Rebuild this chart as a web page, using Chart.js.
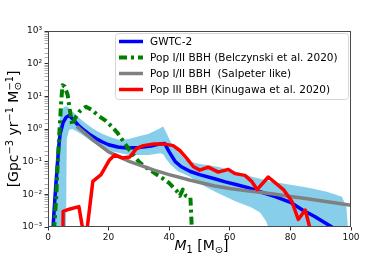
<!DOCTYPE html>
<html>
<head>
<meta charset="utf-8">
<script src="https://cdn.jsdelivr.net/npm/chart.js@4.4.1/dist/chart.umd.min.js"></script>
<style>
  html, body { margin: 0; padding: 0; background: #fff; }
  canvas { display: block; }
</style>
</head>
<body>
<canvas id="c" width="390" height="260"></canvas>
<script>
const FONT = '"DejaVu Sans", sans-serif';

// series names (legend order)
const seriesLabels = [
  'GWTC-2',
  'Pop I/II BBH (Belczynski et al. 2020)',
  'Pop I/II BBH  (Salpeter like)',
  'Pop III BBH (Kinugawa et al. 2020)'
];

// GWTC-2 median
const gwX = [1.6, 2, 2.5, 3, 3.5, 4, 5, 6, 7, 8, 10, 12, 14, 16, 18, 20, 23, 26, 30, 34, 37, 38.5, 40, 42, 44, 47, 50, 55, 58.5, 62, 66, 70, 75, 80, 84, 88, 93.7, 95];
const gwY = [0.0008, 0.003, 0.015, 0.06, 0.25, 0.7, 1.6, 2.3, 2.6, 2.1, 1.3, 0.9, 0.65, 0.5, 0.4, 0.33, 0.28, 0.26, 0.27, 0.3, 0.35, 0.36, 0.2, 0.1, 0.07, 0.05, 0.04, 0.03, 0.024, 0.02, 0.016, 0.012, 0.0085, 0.0057, 0.0033, 0.0021, 0.001, 0.0008];

// GWTC-2 90% band
const bandX  = [1.2, 1.6, 2.2, 3, 4, 5, 5.9, 6.2, 7, 8, 10, 12, 15, 18, 21, 24, 27, 30, 33, 35, 37, 38, 39, 40.5, 43, 45, 47, 50, 52, 56, 62, 67, 70, 72, 73, 77, 81, 86, 92, 97, 98.5, 99.2];
const bandHi = [0.0005, 0.003, 0.03, 0.4, 2.5, 4.5, 5, 4.9, 4.4, 3.5, 2.3, 1.6, 1.0, 0.7, 0.55, 0.45, 0.5, 0.6, 0.7, 0.85, 1.05, 1.2, 0.8, 0.4, 0.2, 0.12, 0.1, 0.085, 0.08, 0.07, 0.05, 0.035, 0.03, 0.027, 0.025, 0.022, 0.019, 0.016, 0.012, 0.0085, 0.004, 0.0005];
const bandLo = [0.0003, 0.0003, 0.0003, 0.0003, 0.0003, 0.0003, 0.0003, 0.5, 0.95, 1.0, 0.8, 0.6, 0.38, 0.27, 0.21, 0.18, 0.16, 0.16, 0.16, 0.17, 0.18, 0.17, 0.12, 0.08, 0.05, 0.042, 0.034, 0.022, 0.017, 0.011, 0.006, 0.004, 0.0028, 0.0015, 0.0008, 0.0003, 0.0003, 0.0003, 0.0003, 0.0003, 0.0003, 0.0003];

// Pop I/II (Belczynski)
const belX = [2, 2.7, 3.2, 3.8, 4.4, 4.8, 5.5, 6.5, 7, 8, 9, 10.5, 12.5, 14.5, 16.5, 19, 21, 23, 25, 27, 30, 32, 34.7, 38, 40, 42.4, 43.5, 44.5, 45.5, 47, 47.7];
const belY = [0.0008, 0.008, 0.09, 0.9, 8, 22, 20, 11, 5, 1.3, 2.2, 3.5, 4.8, 3.8, 2.6, 1.8, 1.2, 0.75, 0.4, 0.22, 0.1, 0.07, 0.048, 0.03, 0.022, 0.013, 0.009, 0.014, 0.009, 0.008, 0.0003];

// Pop I/II (Salpeter like)
const salX = [9.5, 10, 15, 20, 27, 35, 40, 47, 55, 60, 65, 70, 75, 80, 85, 90, 95, 100];
const salY = [1.2, 1.1, 0.45, 0.2, 0.1, 0.055, 0.04, 0.027, 0.018, 0.015, 0.013, 0.0115, 0.01, 0.0086, 0.0074, 0.0064, 0.0054, 0.0046];

// Pop III (Kinugawa)
const redX = [4.9, 5, 7, 10.2, 12.3, 14.8, 17.5, 20.2, 22, 24.5, 27, 29.2, 31.5, 35, 38, 41.3, 43.5, 46, 48, 50.1, 52.9, 56.2, 59.5, 61.7, 65, 67.2, 69, 72.7, 77.7, 80.5, 82.6, 84.9, 87.2];
const redY = [0.0003, 0.003, 0.0035, 0.0042, 0.0003, 0.025, 0.04, 0.11, 0.16, 0.13, 0.14, 0.25, 0.31, 0.35, 0.35, 0.31, 0.22, 0.12, 0.07, 0.055, 0.068, 0.048, 0.058, 0.043, 0.038, 0.025, 0.014, 0.034, 0.014, 0.006, 0.0017, 0.0033, 0.0005];

// axes
const xTicks = [0, 20, 40, 60, 80, 100];
const yPowers = [-3, -2, -1, 0, 1, 2, 3];
const yTickLabels = ['10⁻³', '10⁻²', '10⁻¹', '10⁰', '10¹', '10²', '10³'];

const pts = (xs, ys) => xs.map((x, i) => ({ x: x, y: ys[i] }));

function isPow10(v) {
  const l = Math.log10(v);
  return Math.abs(l - Math.round(l)) < 1e-6;
}

// draw text made of pieces (sub/superscripts); returns width
function rich(ctx, parts, x, y, draw) {
  let cx = x, held = 0;
  parts.forEach(p => {
    ctx.font = (p.it ? 'italic ' : '') + p.s + 'px ' + FONT;
    const w = ctx.measureText(p.t).width;
    if (draw) ctx.fillText(p.t, cx, y + (p.dy || 0));
    if (p.hold) { held = w; return; }
    cx += Math.max(w, held);
    held = 0;
  });
  return cx - x;
}

const xTitle = [
  { t: 'M', s: 14, it: true }, { t: '1', s: 9.8, dy: 3 },
  { t: ' [M', s: 14 }, { t: '⊙', s: 9.8, dy: 3 }, { t: ']', s: 14 }
];
const yTitle = [
  { t: '[Gpc', s: 14 }, { t: '−3', s: 9.8, dy: -5.5 },
  { t: ' yr', s: 14 }, { t: '−1', s: 9.8, dy: -5.5 },
  { t: ' M', s: 14 }, { t: '⊙', s: 9.8, dy: 3, hold: true }, { t: '−1', s: 9.8, dy: -5.5 },
  { t: ']', s: 14 }
];

const decorations = {
  id: 'decorations',
  afterDraw(chart) {
    const ctx = chart.ctx, a = chart.chartArea;
    ctx.save();
    // frame
    ctx.strokeStyle = '#4a4a4a';
    ctx.lineWidth = 1;
    ctx.strokeRect(Math.round(a.left) + 0.5, Math.round(a.top) + 0.5,
      Math.round(a.right - a.left) - 1, Math.round(a.bottom - a.top) - 1);

    // axis titles
    ctx.fillStyle = '#000';
    ctx.textBaseline = 'alphabetic';
    ctx.textAlign = 'left';
    let w = rich(ctx, xTitle, 0, 0, false);
    rich(ctx, xTitle, (a.left + a.right) / 2 - w / 2 + 2, 250, true);

    w = rich(ctx, yTitle, 0, 0, false);
    ctx.translate(13, (a.top + a.bottom) / 2);
    ctx.rotate(-Math.PI / 2);
    rich(ctx, yTitle, -w / 2, 5, true);
    ctx.restore();

    // legend
    ctx.save();
    const bx = 115.5, by = 33.5, bw = 233, bh = 66, r = 3;
    ctx.beginPath();
    ctx.moveTo(bx + r, by);
    ctx.lineTo(bx + bw - r, by);
    ctx.arcTo(bx + bw, by, bx + bw, by + r, r);
    ctx.lineTo(bx + bw, by + bh - r);
    ctx.arcTo(bx + bw, by + bh, bx + bw - r, by + bh, r);
    ctx.lineTo(bx + r, by + bh);
    ctx.arcTo(bx, by + bh, bx, by + bh - r, r);
    ctx.lineTo(bx, by + r);
    ctx.arcTo(bx, by, bx + r, by, r);
    ctx.closePath();
    ctx.fillStyle = 'rgba(255,255,255,0.8)';
    ctx.fill();
    ctx.strokeStyle = '#d6d6d6';
    ctx.lineWidth = 1;
    ctx.stroke();

    ctx.font = '10.5px ' + FONT;
    ctx.textBaseline = 'middle';
    seriesLabels.forEach((label, i) => {
      const ds = chart.data.datasets[i];
      const y = 41.5 + i * 16;
      ctx.beginPath();
      ctx.setLineDash(ds.borderDash || []);
      ctx.strokeStyle = ds.borderColor;
      ctx.lineWidth = ds.borderWidth;
      ctx.moveTo(119, y);
      ctx.lineTo(143, y);
      ctx.stroke();
      ctx.setLineDash([]);
      ctx.fillStyle = '#000';
      ctx.fillText(label, 150, y + 0.5);
    });
    ctx.restore();
  }
};

const lineBase = { pointRadius: 0, fill: false, tension: 0, clip: 0, borderJoinStyle: 'round' };

new Chart(document.getElementById('c'), {
  type: 'line',
  data: {
    datasets: [
      Object.assign({}, lineBase, { label: seriesLabels[0], data: pts(gwX, gwY), borderColor: '#0000ff', borderWidth: 3.5, order: 3 }),
      Object.assign({}, lineBase, { label: seriesLabels[1], data: pts(belX, belY), borderColor: '#008000', borderWidth: 4, borderDash: [8, 4, 3, 4], order: 2 }),
      Object.assign({}, lineBase, { label: seriesLabels[2], data: pts(salX, salY), borderColor: '#808080', borderWidth: 3.5, order: 1 }),
      Object.assign({}, lineBase, { label: seriesLabels[3], data: pts(redX, redY), borderColor: '#ff0000', borderWidth: 3.5, order: 0 }),
      Object.assign({}, lineBase, { label: 'band', data: pts(bandX, bandHi), borderWidth: 0, borderColor: 'rgba(0,0,0,0)', backgroundColor: '#87ceeb', fill: '+1', order: 4 }),
      Object.assign({}, lineBase, { label: 'bandLo', data: pts(bandX, bandLo), borderWidth: 0, borderColor: 'rgba(0,0,0,0)', order: 5 })
    ]
  },
  options: {
    responsive: false,
    animation: false,
    devicePixelRatio: 1,
    layout: { padding: { top: 31, right: 39, left: 0, bottom: 0 } },
    plugins: { legend: { display: false }, tooltip: { enabled: false } },
    scales: {
      x: {
        type: 'linear', min: 0, max: 100,
        afterBuildTicks: s => { s.ticks = xTicks.map(v => ({ value: v })); },
        afterFit: s => { s.height = 33; },
        ticks: { font: { family: FONT, size: 9 }, color: '#111', padding: 2, maxRotation: 0, autoSkip: false },
        grid: { drawOnChartArea: false, tickLength: 3.5, tickColor: '#333', tickWidth: 1 },
        border: { display: false }
      },
      y: {
        type: 'logarithmic', min: 1e-3, max: 1e3,
        afterFit: s => { s.width = 48; },
        ticks: {
          font: { family: FONT, size: 9 }, color: '#111', padding: 2.5, autoSkip: false,
          callback: v => isPow10(v) ? yTickLabels[yPowers.indexOf(Math.round(Math.log10(v)))] : ''
        },
        grid: {
          drawOnChartArea: false, tickLength: 3.5,
          tickColor: c => (c.tick && isPow10(c.tick.value)) ? '#333' : '#777',
          tickWidth: c => (c.tick && isPow10(c.tick.value)) ? 1 : 0.6
        },
        border: { display: false }
      }
    }
  },
  plugins: [decorations]
});
</script>
</body>
</html>
